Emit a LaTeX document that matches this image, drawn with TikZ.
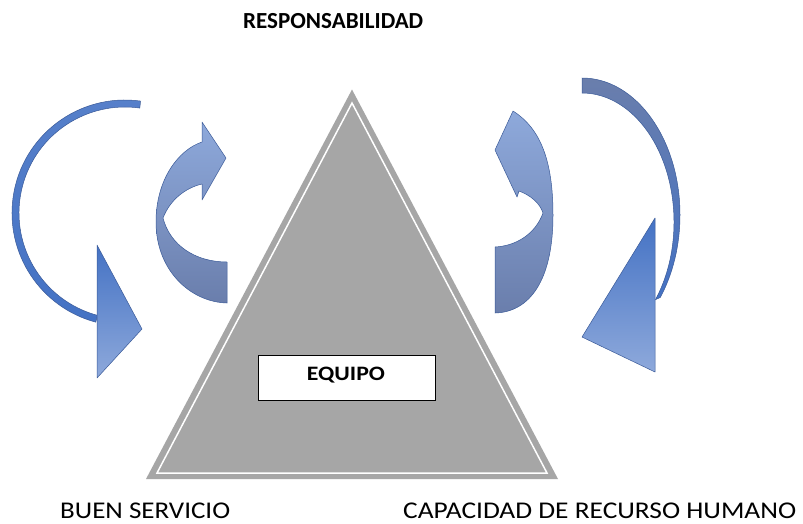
\documentclass[tikz,border=0pt]{standalone}
\usepackage{fontspec}
\setmainfont{Carlito}
\usepackage{graphicx}
\definecolor{triGray}{HTML}{A6A6A6}
\definecolor{blueMain}{HTML}{4472C4}
\definecolor{blueLight}{HTML}{8EA9DB}
\definecolor{blueGray}{HTML}{6A7EAC}
\definecolor{blueEdge}{HTML}{3A5A98}
\begin{document}
\begin{tikzpicture}[x=1pt,y=-1pt,
  curlarrow/.style={top color=blueLight,middle color=blueMain,bottom color=blueGray,draw=blueEdge,line width=0.5pt,line join=round},
  headarrow/.style={top color=blueMain,bottom color=blueLight,draw=blueEdge,line width=0.5pt,line join=round},
  thinarc/.style={top color=blueMain!90!white,bottom color=blueMain,draw=blueEdge,line width=0.5pt},
  rightarc/.style={top color=blueGray,bottom color=blueMain,draw=blueEdge,line width=0.5pt},
  lbl/.style={inner sep=0pt,anchor=base west,font=\fontsize{24}{24}\selectfont},
  boxlbl/.style={draw=black,line width=0.8pt,fill=white,minimum width=177pt,minimum height=45pt,inner sep=0pt}]
\useasboundingbox[fill=white] (0,0) rectangle (803,523);

% triangle
\coordinate (A) at (352,89.5);
\coordinate (B) at (146,479);
\coordinate (C) at (558,479);
\coordinate (Ai) at (352,103);
\coordinate (Bi) at (157,473);
\coordinate (Ci) at (547,473);
\fill[triGray] (A) -- (B) -- (C) -- cycle;
\draw[white,line width=1.5pt,line join=miter] (Ai) -- (Bi) -- (Ci) -- cycle;

% left big arc arrow
\coordinate (LC) at (125,213);
\path[thinarc] (LC) ++(-82:113) arc[start angle=-82,end angle=-255,radius=113]
  -- ([shift={(-255:106)}]LC) arc[start angle=-255,end angle=-82,radius=106] -- cycle;
\path[headarrow] (97,245) -- (142,329) -- (97,378) -- cycle;

% left small curved arrow
\path[curlarrow] (227,303) .. controls (190,302) and (156,270) .. (156,222)
  .. controls (156,180) and (178,150) .. (202,142) -- (202,122) -- (226,158)
  -- (202,200) -- (202,184) .. controls (185,188) and (170,200) .. (163,218)
  .. controls (170,245) and (195,262) .. (227,262) -- cycle;

% right small curved arrow
\path[curlarrow] (495,313) .. controls (530,312) and (553,280) .. (553,215)
  .. controls (553,160) and (540,128) .. (513,111) -- (495,150) -- (517,197)
  -- (519,191) .. controls (530,195) and (540,203) .. (543,213)
  .. controls (535,235) and (515,246) .. (495,247) -- cycle;

% right big arc arrow
\coordinate (RC) at (582,215);
\coordinate (RCi) at (582,222);
\path[rightarc]
  (RC) ++(-90:98 and 137) arc[start angle=-90,end angle=37,x radius=98,y radius=137]
  -- ([shift={(37:92 and 129)}]RCi) arc[start angle=37,end angle=-90,x radius=92,y radius=129] -- cycle;
\path[headarrow] (655,218) -- (582,337) -- (655,372) -- cycle;

% box
\node[boxlbl] (eq) at (346.5,377.5) {};
\node[inner sep=0pt,anchor=base] (eqt) at (346,380) {\resizebox{78pt}{\height}{\fontsize{20.5}{20.5}\selectfont\bfseries EQUIPO}};

% labels
\node[lbl] (resp) at (243,28) {\resizebox{180pt}{\height}{\fontsize{23}{23}\selectfont\bfseries RESPONSABILIDAD}};
\node[lbl] (buen) at (60,518) {\resizebox{170pt}{\height}{\fontsize{24}{24}\selectfont BUEN SERVICIO}};
\node[lbl] (cap) at (403,518) {\resizebox{393pt}{\height}{\fontsize{24}{24}\selectfont CAPACIDAD DE RECURSO HUMANO}};
\end{tikzpicture}
\end{document}
